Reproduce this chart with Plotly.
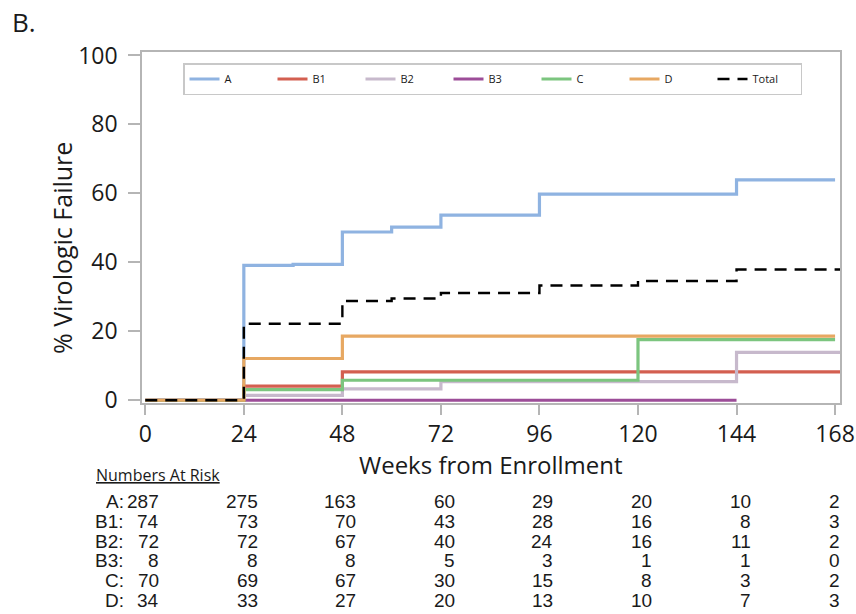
import plotly.graph_objects as go

# ---------------- data ----------------
weeks_ticks = [0, 24, 48, 72, 96, 120, 144, 168]

groups = ["A", "B1", "B2", "B3", "C", "D", "Total"]

A_x = [0, 24, 36, 48, 60, 72, 96, 144, 168]
A_y = [0, 39.1, 39.4, 48.8, 50.2, 53.7, 59.8, 63.9, 63.9]

B1_x = [0, 24, 48, 170]
B1_y = [0, 4.1, 8.2, 8.2]

B2_x = [0, 24, 48, 72, 144, 170]
B2_y = [0, 1.4, 3.3, 5.4, 13.9, 13.9]

B3_x = [0, 144]
B3_y = [0, 0]

C_x = [0, 24, 48, 120, 168]
C_y = [0, 3.1, 5.8, 17.6, 17.6]

D_x = [0, 24, 48, 168]
D_y = [0, 12.1, 18.6, 18.6]

Total_x = [0, 24, 48, 60, 72, 96, 120, 144, 170]
Total_y = [0, 22.2, 28.8, 29.5, 31.1, 33.3, 34.6, 37.9, 37.9]

risk_labels = ["A:", "B1:", "B2:", "B3:", "C:", "D:"]
risk_A = [287, 275, 163, 60, 29, 20, 10, 2]
risk_B1 = [74, 73, 70, 43, 28, 16, 8, 3]
risk_B2 = [72, 72, 67, 40, 24, 16, 11, 2]
risk_B3 = [8, 8, 8, 5, 3, 1, 1, 0]
risk_C = [70, 69, 67, 30, 15, 8, 3, 2]
risk_D = [34, 33, 27, 20, 13, 10, 7, 3]

# ---------------- styling ----------------
colors = {
    "A": "#8FB3E1",
    "B1": "#D35F50",
    "B2": "#C7B9CC",
    "B3": "#9C4D98",
    "C": "#7CC57F",
    "D": "#E7A862",
    "Total": "#000000",
}

series = {
    "A": (A_x, A_y),
    "B1": (B1_x, B1_y),
    "B2": (B2_x, B2_y),
    "B3": (B3_x, B3_y),
    "C": (C_x, C_y),
    "D": (D_x, D_y),
    "Total": (Total_x, Total_y),
}

W, H = 856, 614
L, R, T, B = 142, 16, 52, 211
PW = W - L - R
PH = H - T - B


def px_x(p):
    return (p - L) / PW


def px_y(p):
    return (H - B - p) / PH


AX_FONT = "Open Sans"
TXT = "#1a1a1a"
FRAME = "#b5b5b5"

fig = go.Figure()
for g in groups:
    xs, ys = series[g]
    if g == "Total":
        line = dict(color=colors[g], width=2.4, dash="12px,8px", shape="hv")
    else:
        line = dict(color=colors[g], width=3.2, shape="hv")
    fig.add_trace(go.Scatter(x=xs, y=ys, mode="lines", name=g, line=line,
                             hoverinfo="skip"))

fig.update_layout(
    width=W, height=H,
    margin=dict(l=L, r=R, t=T, b=B, autoexpand=False),
    paper_bgcolor="white", plot_bgcolor="white",
    showlegend=True,
    legend=dict(
        orientation="h",
        x=px_x(183), y=px_y(63), xanchor="left", yanchor="top",
        bordercolor="#c8c8c8", borderwidth=1.5,
        font=dict(family=AX_FONT, size=11, color=TXT),
        entrywidth=43, entrywidthmode="pixels",
        tracegroupgap=0, itemwidth=30,
    ),
    xaxis=dict(
        range=[-0.8, 169.2], tickmode="array", tickvals=weeks_ticks,
        ticktext=[str(v) for v in weeks_ticks],
        showgrid=False, zeroline=False,
        showline=True, mirror=True, linecolor=FRAME, linewidth=1.5,
        ticks="outside", ticklen=10, tickwidth=1.5, tickcolor=FRAME,
        tickfont=dict(family=AX_FONT, size=23, color=TXT),
    ),
    yaxis=dict(
        range=[-0.8, 101], tickmode="array", tickvals=[0, 20, 40, 60, 80, 100],
        showgrid=False, zeroline=False,
        showline=True, mirror=True, linecolor=FRAME, linewidth=1.5,
        ticks="outside", ticklen=12, tickwidth=1.5, tickcolor=FRAME,
        tickfont=dict(family=AX_FONT, size=23, color=TXT),
        ticklabelstandoff=6,
    ),
)

annotations = []
# panel label
annotations.append(dict(text="B.", xref="paper", yref="paper", x=px_x(10), y=px_y(22),
                        xanchor="left", yanchor="middle", showarrow=False,
                        font=dict(family=AX_FONT, size=26, color=TXT)))
# axis titles
annotations.append(dict(text="% Virologic Failure", xref="paper", yref="paper",
                        x=px_x(62), y=px_y(248), textangle=-90,
                        xanchor="center", yanchor="middle", showarrow=False,
                        font=dict(family=AX_FONT, size=25, color=TXT)))
annotations.append(dict(text="Weeks from Enrollment", xref="paper", yref="paper",
                        x=px_x(491), y=px_y(464),
                        xanchor="center", yanchor="middle", showarrow=False,
                        font=dict(family=AX_FONT, size=24, color=TXT)))
# Numbers at risk header
annotations.append(dict(text="Numbers At Risk", xref="paper", yref="paper",
                        x=px_x(94), y=px_y(475), xanchor="left", yanchor="middle",
                        showarrow=False,
                        font=dict(family=AX_FONT, size=16, color=TXT, lineposition="under")))

risk_rows = [risk_A, risk_B1, risk_B2, risk_B3, risk_C, risk_D]
TBL_FONT = dict(family="Liberation Sans, Arial", size=19, color=TXT)
for i, (lab, row) in enumerate(zip(risk_labels, risk_rows)):
    yc = px_y(501.5 + 19.8 * i)
    annotations.append(dict(text=lab, xref="x", yref="paper", x=weeks_ticks[0], y=yc,
                            xanchor="right", yanchor="middle", xshift=-19,
                            showarrow=False, font=TBL_FONT))
    for j, (wk, n) in enumerate(zip(weeks_ticks, row)):
        shift = 7 if j == len(weeks_ticks) - 1 else 16
        annotations.append(dict(text=str(n), xref="x", yref="paper", x=wk, y=yc,
                                xanchor="right", yanchor="middle", xshift=shift,
                                showarrow=False, font=TBL_FONT))

fig.update_layout(annotations=annotations)

fig.write_html("out.html")
